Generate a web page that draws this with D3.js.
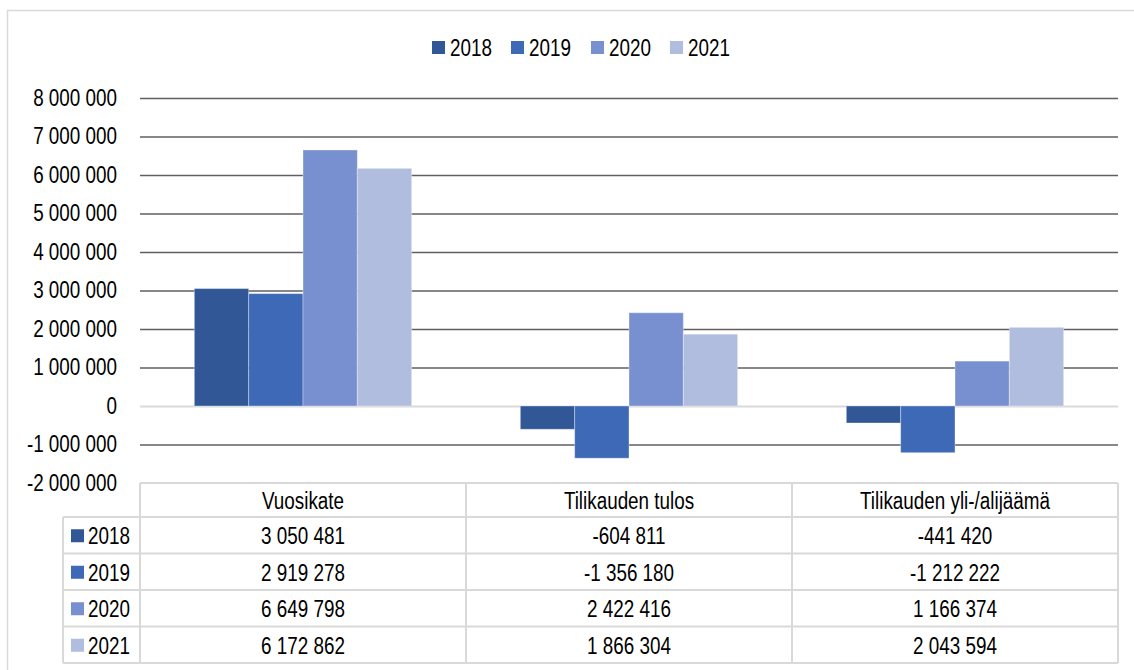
<!DOCTYPE html>
<html><head><meta charset="utf-8">
<script src="https://cdn.jsdelivr.net/npm/d3@7"></script>
<style>
html,body{margin:0;padding:0;background:#fff;}
text{font-family:"Liberation Sans",Arial,sans-serif;fill:#000;}
</style></head>
<body>
<svg id="c" width="1134" height="670"></svg>
<script>
const categories = ["Vuosikate", "Tilikauden tulos", "Tilikauden yli-/alijäämä"];
const years = ["2018", "2019", "2020", "2021"];
const v2018 = [3050481, -604811, -441420];
const v2019 = [2919278, -1356180, -1212222];
const v2020 = [6649798, 2422416, 1166374];
const v2021 = [6172862, 1866304, 2043594];
const seriesValues = [v2018, v2019, v2020, v2021];
const yTicks = [-2000000, -1000000, 0, 1000000, 2000000, 3000000, 4000000, 5000000, 6000000, 7000000, 8000000];
const colors = ["#315797", "#3d69b6", "#7890cf", "#b1bddf"];

const svg = d3.select("#c");
const fmt = v => d3.format(",")(v).replace(/,/g, " ").replace("−", "-");
const FS = 23, SX = 0.82;

// condensed text helper: places text at (x,y) with horizontal compression
function ctext(parent, x, yy, str, anchor) {
  return parent.append("text")
    .attr("transform", `translate(${x},${yy}) scale(${SX},1)`)
    .attr("dy", "0.35em").attr("font-size", FS)
    .attr("text-anchor", anchor || "start").text(str);
}

// outer frame
svg.append("rect").attr("x", 7.5).attr("y", 10.5).attr("width", 1140).attr("height", 700)
  .attr("fill", "none").attr("stroke", "#d9d9d9").attr("stroke-width", 1.5);

const L = 140, R = 1118, T = 98, B = 483;
const y = d3.scaleLinear().domain([-2000000, 8000000]).range([B, T]);
const x0 = d3.scaleBand().domain(categories).range([L, R]).padding(0);
const slot = x0.bandwidth();
const x1 = d3.scaleBand().domain(years).range([slot / 6, slot * 5 / 6]).padding(0);

// gridlines + y axis labels
const yAxis = d3.axisLeft(y).tickValues(yTicks).tickSize(-(R - L)).tickFormat(fmt).tickPadding(0);
const ga = svg.append("g").attr("transform", `translate(${L},0)`).call(yAxis);
ga.select(".domain").remove();
ga.selectAll(".tick line").attr("stroke", d => d === 0 ? "#d9d9d9" : "#5f5f5f")
  .attr("stroke-width", d => d === 0 ? 2 : 1.5)
  .style("display", d => d === -2000000 ? "none" : null);
ga.selectAll(".tick text").attr("font-size", FS).attr("fill", "#000")
  .attr("x", null)
  .attr("transform", `translate(-23,0) scale(${SX},1)`)
  .style("font-family", '"Liberation Sans",Arial,sans-serif');

// bars
const groups = svg.append("g").selectAll("g").data(categories).join("g")
  .attr("transform", d => `translate(${x0(d)},0)`);
groups.selectAll("rect").data((c, ci) => years.map((yr, si) => ({yr, si, v: seriesValues[si][ci]})))
  .join("rect")
  .attr("x", d => x1(d.yr))
  .attr("width", x1.bandwidth())
  .attr("y", d => y(Math.max(0, d.v)))
  .attr("height", d => Math.abs(y(d.v) - y(0)))
  .attr("fill", d => colors[d.si])
  .attr("stroke", "rgba(255,255,255,0.35)").attr("stroke-width", 1);

// legend
const legX = [432, 511, 591, 670];
const leg = svg.append("g");
years.forEach((d, i) => {
  leg.append("rect").attr("x", legX[i]).attr("y", 41).attr("width", 13).attr("height", 13).attr("fill", colors[i]);
  ctext(leg, legX[i] + 18, 48, d);
});

// data table
const hdrTop = B, hdrBot = 517, rowH = 36.5;
const tl = svg.append("g");
const lineC = "#d9d9d9";
const hl = (x1_, x2_, yy) => tl.append("line").attr("x1", x1_).attr("x2", x2_).attr("y1", yy).attr("y2", yy).attr("stroke", lineC).attr("stroke-width", 2);
const vl = (xx, y1_, y2_) => tl.append("line").attr("x1", xx).attr("x2", xx).attr("y1", y1_).attr("y2", y2_).attr("stroke", lineC).attr("stroke-width", 2);
const tableBot = hdrBot + rowH * years.length;
hl(L, R, hdrTop);
years.forEach((d, i) => hl(63, R, hdrBot + rowH * i));
hl(63, R, tableBot);
[L, ...categories.map(c => x0(c) + slot)].forEach(xx => vl(xx, hdrTop, tableBot));
vl(63, hdrBot, tableBot);

categories.forEach(c => ctext(tl, x0(c) + slot / 2, (hdrTop + hdrBot) / 2 + 1, c, "middle"));

years.forEach((yr, si) => {
  const cy = hdrBot + rowH * si + rowH / 2 + 1;
  tl.append("rect").attr("x", 71).attr("y", cy - 7).attr("width", 13).attr("height", 13).attr("fill", colors[si]);
  ctext(tl, 88, cy, yr);
  categories.forEach((c, ci) => ctext(tl, x0(c) + slot / 2, cy, fmt(seriesValues[si][ci]), "middle"));
});
</script>
</body></html>
